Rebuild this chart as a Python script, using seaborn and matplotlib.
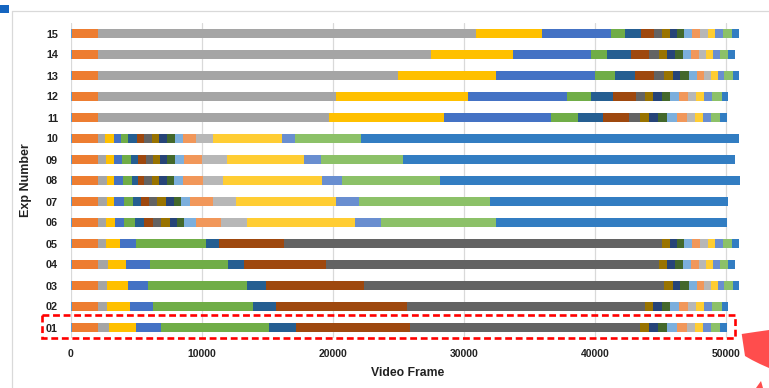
import numpy as np
import pandas as pd
import matplotlib
matplotlib.use("Agg")
import matplotlib.pyplot as plt
import seaborn as sns
from matplotlib import patches, transforms
from matplotlib.lines import Line2D

# ---- data: cumulative segment end frames per experiment (19 segments each) ----
experiments = ["15", "14", "13", "12", "11", "10", "09", "08",
               "07", "06", "05", "04", "03", "02", "01"]

exp_15 = [130, 2120, 30940, 35975, 41263, 42308, 43552, 44544, 45154, 45719, 46299, 46833, 47398, 48054, 48618, 49198, 49809, 50450, 50984]
exp_14 = [130, 2120, 27506, 33763, 39714, 40958, 42789, 44162, 44925, 45490, 46123, 46711, 47344, 47977, 48466, 49046, 49557, 50190, 50701]
exp_13 = [130, 2120, 25011, 32489, 40019, 41545, 43094, 44544, 45307, 45948, 46482, 47169, 47825, 48313, 48870, 49427, 49885, 50526, 51029]
exp_12 = [130, 2120, 20258, 30306, 37906, 39691, 41416, 43148, 43857, 44468, 45109, 45765, 46451, 47115, 47703, 48313, 48969, 49687, 50190]
exp_11 = [130, 2120, 19724, 28475, 36685, 38722, 40653, 42636, 43476, 44140, 44803, 45490, 46299, 47039, 47672, 48283, 48893, 49557, 50068]
exp_10 = [130, 2120, 2655, 3319, 3830, 4410, 5051, 5608, 6196, 6775, 7386, 7996, 8607, 9576, 10850, 16160, 17152, 22165, 50984]
exp_09 = [130, 2120, 2709, 3342, 3952, 4593, 5173, 5738, 6272, 6829, 7386, 7950, 8683, 10033, 11918, 17839, 19113, 25347, 50724]
exp_08 = [130, 2120, 2762, 3342, 4029, 4692, 5173, 5631, 6241, 6775, 7363, 7897, 8607, 10133, 11659, 19189, 20693, 28193, 51060]
exp_07 = [130, 2120, 2785, 3342, 4059, 4746, 5402, 6012, 6600, 7264, 7920, 8431, 9141, 10896, 12628, 20235, 22013, 32008, 50190]
exp_06 = [130, 2120, 2732, 3418, 4105, 4898, 5631, 6318, 6928, 7569, 8149, 8683, 9553, 11506, 13467, 21730, 23691, 32466, 50068]
exp_05 = [130, 2120, 2709, 3754, 5021, 10339, 11308, 16313, 45154, 45719, 46299, 46833, 47398, 48054, 48618, 49198, 49809, 50450, 50984]
exp_04 = [130, 2120, 2838, 4235, 6089, 12040, 13261, 19518, 44925, 45490, 46123, 46711, 47344, 47977, 48466, 49046, 49557, 50190, 50701]
exp_03 = [130, 2120, 2808, 4364, 5913, 13444, 14917, 22417, 45307, 45948, 46482, 47169, 47825, 48313, 48870, 49427, 49885, 50526, 51029]
exp_02 = [130, 2120, 2808, 4540, 6318, 13948, 15703, 25675, 43857, 44468, 45109, 45765, 46451, 47115, 47703, 48313, 48969, 49687, 50190]
exp_01 = [130, 2120, 2960, 4975, 6928, 15168, 17183, 25927, 43476, 44140, 44803, 45490, 46299, 47039, 47672, 48283, 48893, 49557, 50068]

segment_colors = ["#5B9BD5", "#ED7D31", "#A5A5A5", "#FFC000", "#4472C4", "#70AD47",
                  "#255E91", "#9E480E", "#636363", "#997300", "#264478", "#43682B",
                  "#7CAFDD", "#F1975A", "#B7B7B7", "#FFCD33", "#698ED0", "#8CC168",
                  "#327DC2"]

x_ticks = [0, 10000, 20000, 30000, 40000, 50000]
x_tick_labels = ["0", "10000", "20000", "30000", "40000", "50000"]

ends_by_exp = {"15": exp_15, "14": exp_14, "13": exp_13, "12": exp_12, "11": exp_11,
               "10": exp_10, "09": exp_09, "08": exp_08, "07": exp_07, "06": exp_06,
               "05": exp_05, "04": exp_04, "03": exp_03, "02": exp_02, "01": exp_01}

rows = []
for e in experiments:
    for k, v in enumerate(ends_by_exp[e]):
        rows.append({"exp": e, "segment": k, "end": v})
df = pd.DataFrame(rows)

# ---- figure ----
sns.set_theme(style="white")
plt.rcParams["font.family"] = ["Liberation Sans", "DejaVu Sans"]

W, H = 769, 388
fig, ax = plt.subplots(figsize=(W / 100, H / 100), dpi=100)
fig.subplots_adjust(left=70.5 / W, right=745.5 / W, top=1 - 23 / H, bottom=1 - 338 / H)

# stacked bars: overlay cumulative ends, longest first
for k in reversed(range(len(segment_colors))):
    sub = df[df["segment"] == k]
    sns.barplot(data=sub, x="end", y="exp", order=experiments, orient="h",
                color=segment_colors[k], saturation=1, width=0.42,
                errorbar=None, linewidth=0, edgecolor="none", ax=ax)

ax.set_xlim(0, 51500)
ax.set_xticks(x_ticks)
ax.set_xticklabels(x_tick_labels, fontsize=7.5, fontweight="bold", color="#222222")
for lab in ax.get_yticklabels():
    lab.set_fontsize(7.8)
    lab.set_fontweight("bold")
    lab.set_color("#222222")
ax.tick_params(axis="both", length=0)
ax.tick_params(axis="y", pad=9)
ax.tick_params(axis="x", pad=8)
ax.set_axisbelow(True)
ax.xaxis.grid(True, color="#D9D9D9", linewidth=0.9)
ax.yaxis.grid(False)
sns.despine(ax=ax, left=True, bottom=True)

ax.set_xlabel("Video Frame", fontsize=8.8, fontweight="bold", color="#222222", labelpad=6)
ax.set_ylabel("Exp Number", fontsize=9, fontweight="bold", color="#222222", labelpad=10)

# ---- decorations in pixel coordinates ----
px = transforms.Affine2D().scale(1 / W, -1 / H).translate(0, 1) + fig.transFigure

fig.add_artist(Line2D([12, W], [11, 11], transform=px, color="#D9D9D9", linewidth=0.9))
fig.add_artist(Line2D([12, 12], [11, H], transform=px, color="#D9D9D9", linewidth=0.9))
fig.add_artist(patches.Rectangle((0, 5), 9, 7.7, transform=px, color="#1565C0", linewidth=0))

fig.add_artist(patches.Rectangle((42, 315), 693, 23, transform=px, fill=False,
                                 edgecolor="#FF0000", linewidth=1.9,
                                 linestyle=(0, (2.6, 1.4))))

fig.add_artist(patches.Polygon([(741.7, 334), (755, 332), (769, 330), (769, 368),
                                (760, 364), (752, 360), (745, 356)],
                               closed=True, transform=px, color="#FF4D4D", linewidth=0))
fig.add_artist(patches.Polygon([(756, 388), (761, 381), (763, 388)],
                               closed=True, transform=px, color="#FF4D4D", linewidth=0))

fig.savefig("out.png", dpi=100)
